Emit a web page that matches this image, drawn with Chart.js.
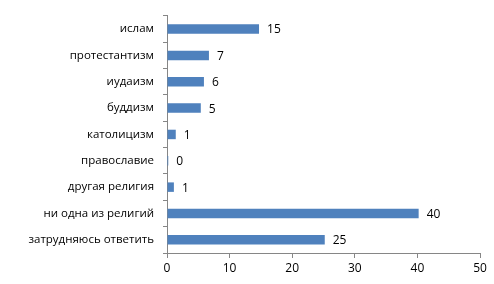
<!DOCTYPE html>
<html>
<head>
<meta charset="utf-8">
<script src="https://cdn.jsdelivr.net/npm/chart.js@4/dist/chart.umd.min.js"></script>
<style>
  html, body { margin: 0; padding: 0; background: #fff; }
  #wrap { width: 494px; height: 284px; }
</style>
</head>
<body>
<div id="wrap"><canvas id="myChart" width="494" height="284"></canvas></div>
<script>
const categories = ['ислам', 'протестантизм', 'иудаизм', 'буддизм', 'католицизм', 'православие', 'другая религия', 'ни одна из религий', 'затрудняюсь ответить'];
const values = [14.7, 6.7, 5.9, 5.4, 1.4, 0.2, 1.1, 40.2, 25.2];
const xTicks = [0, 10, 20, 30, 40, 50];

const fontFamily = "'Open Sans', sans-serif";

// value labels to the right of each bar (no datalabels plugin available)
const barLabels = {
  id: 'barLabels',
  afterDatasetsDraw(chart) {
    const ctx = chart.ctx;
    const meta = chart.getDatasetMeta(0);
    ctx.save();
    ctx.font = '12px ' + fontFamily;
    ctx.fillStyle = '#000';
    ctx.textAlign = 'left';
    ctx.textBaseline = 'middle';
    meta.data.forEach((bar, i) => {
      ctx.fillText(String(Math.round(values[i])), bar.x + 8, bar.y + 1);
    });
    ctx.restore();
  }
};

const ctx = document.getElementById('myChart').getContext('2d');
const myChart = new Chart(ctx, {
  type: 'bar',
  data: {
    labels: categories,
    datasets: [{
      data: values,
      backgroundColor: '#4F81BD',
      borderWidth: 0,
      barPercentage: 0.36,
      categoryPercentage: 1
    }]
  },
  options: {
    indexAxis: 'y',
    responsive: false,
    animation: false,
    layout: { padding: { top: 13, right: 14, left: 0, bottom: 0 } },
    plugins: { legend: { display: false }, tooltip: { enabled: false } },
    scales: {
      x: {
        min: 0,
        max: 50,
        afterBuildTicks: (scale) => { scale.ticks = xTicks.map(v => ({ value: v })); },
        afterFit: (scale) => { scale.height = 31; },
        border: { color: '#868686', width: 1 },
        grid: { drawOnChartArea: false, tickLength: 5, color: '#868686' },
        ticks: { color: '#000', font: { family: fontFamily, size: 12 }, padding: 3, maxRotation: 0 }
      },
      y: {
        afterFit: (scale) => { scale.width = 167; },
        border: { color: '#868686', width: 1 },
        grid: { drawOnChartArea: false, tickLength: 4, color: '#868686', offset: true },
        ticks: { color: '#000', font: { family: fontFamily, size: 11.5 }, padding: 9 }
      }
    }
  },
  plugins: [barLabels]
});
</script>
</body>
</html>
